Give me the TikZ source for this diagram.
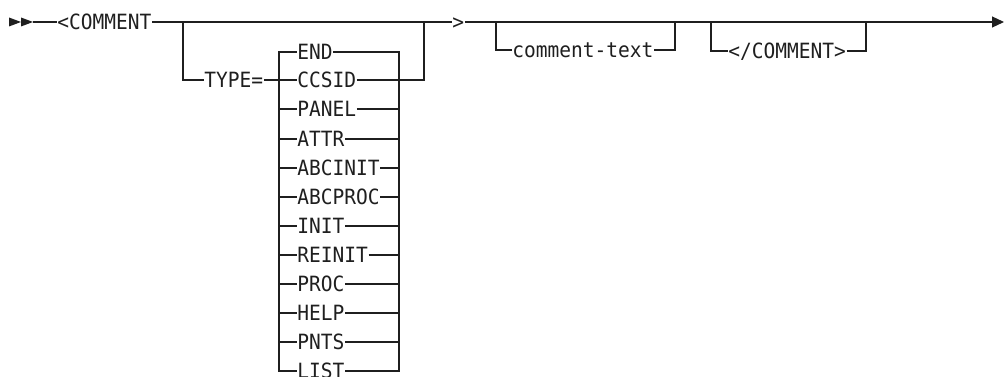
\documentclass[tikz,border=0pt]{standalone}
\usepackage{fontspec}
\usetikzlibrary{arrows.meta}
\newfontfamily\railfont[FakeStretch=0.93]{DejaVu Sans Mono}
\begin{document}
\begin{tikzpicture}[x=1pt,y=-1pt,
  rail/.style={draw=black!88, line width=1.2pt},
  lbl/.style={font=\railfont\fontsize{21}{22}\selectfont, text=black!88, inner xsep=0.6pt, inner ysep=0pt, text height=15pt, text depth=0pt, anchor=west},
  tip/.style={fill=black!88}]
\useasboundingbox (0,0) rectangle (1005,377);
% start marks
\fill[tip] (9,17.5) -- (21,22) -- (9,26.5) -- cycle;
\fill[tip] (21,17.5) -- (33,22) -- (21,26.5) -- cycle;
\coordinate (start) at (33,22);
% main line nodes
\node[lbl] (comment) at (56.5,22) {<COMMENT};
\coordinate (j1) at (183,22);
\coordinate (j2) at (424,22);
\node[lbl] (gt) at (451.5,22) {>};
\coordinate (c1) at (496,22);
\coordinate (c2) at (675,22);
\coordinate (d1) at (711,22);
\coordinate (d2) at (866,22);
\coordinate (fin) at (1004,22);
% type branch
\node[lbl] (type) at (203.5,80) {TYPE=};
\coordinate (bl) at (279,0);
\coordinate (br) at (399,0);
\node[lbl] (vEND) at (296.5,52) {END};
\node[lbl] (vCCSID) at (296.5,80) {CCSID};
\node[lbl] (vPANEL) at (296.5,109) {PANEL};
\node[lbl] (vATTR) at (296.5,139) {ATTR};
\node[lbl] (vABCINIT) at (296.5,168) {ABCINIT};
\node[lbl] (vABCPROC) at (296.5,197) {ABCPROC};
\node[lbl] (vINIT) at (296.5,226) {INIT};
\node[lbl] (vREINIT) at (296.5,255) {REINIT};
\node[lbl] (vPROC) at (296.5,284) {PROC};
\node[lbl] (vHELP) at (296.5,313) {HELP};
\node[lbl] (vPNTS) at (296.5,342) {PNTS};
\node[lbl] (vLIST) at (296.5,371) {LIST};
% optional items
\node[lbl] (ctext) at (511.5,50) {comment-text};
\node[lbl] (cend) at (727.5,51) {</COMMENT>};
% main line
\draw[rail] (start) -- (comment.west);
\draw[rail] (comment.east) -- (j1) -- (j2) -- (gt.west);
\draw[rail] (gt.east) -- (c1) -- (c2) -- (d1) -- (d2);
\draw[rail, -{Triangle[length=12pt,width=11pt]}] (d2) -- (fin);
% TYPE= branch
\draw[rail] (j1) |- (type.west);
\draw[rail] (type.east) -- (vCCSID.west);
\draw[rail] (vCCSID.east) -| (j2);
% choice block
\draw[rail] (vEND.west) -| (bl |- vLIST.west) -- (vLIST.west);
\draw[rail] (vEND.east) -| (br |- vLIST.east) -- (vLIST.east);
\foreach \n in {vPANEL,vATTR,vABCINIT,vABCPROC,vINIT,vREINIT,vPROC,vHELP,vPNTS}{
  \draw[rail] (bl |- \n.west) -- (\n.west);
  \draw[rail] (\n.east) -- (br |- \n.east);
}
% comment-text branch
\draw[rail] (c1) |- (ctext.west);
\draw[rail] (ctext.east) -| (c2);
% </COMMENT> branch
\draw[rail] (d1) |- (cend.west);
\draw[rail] (cend.east) -| (d2);
\end{tikzpicture}
\end{document}
